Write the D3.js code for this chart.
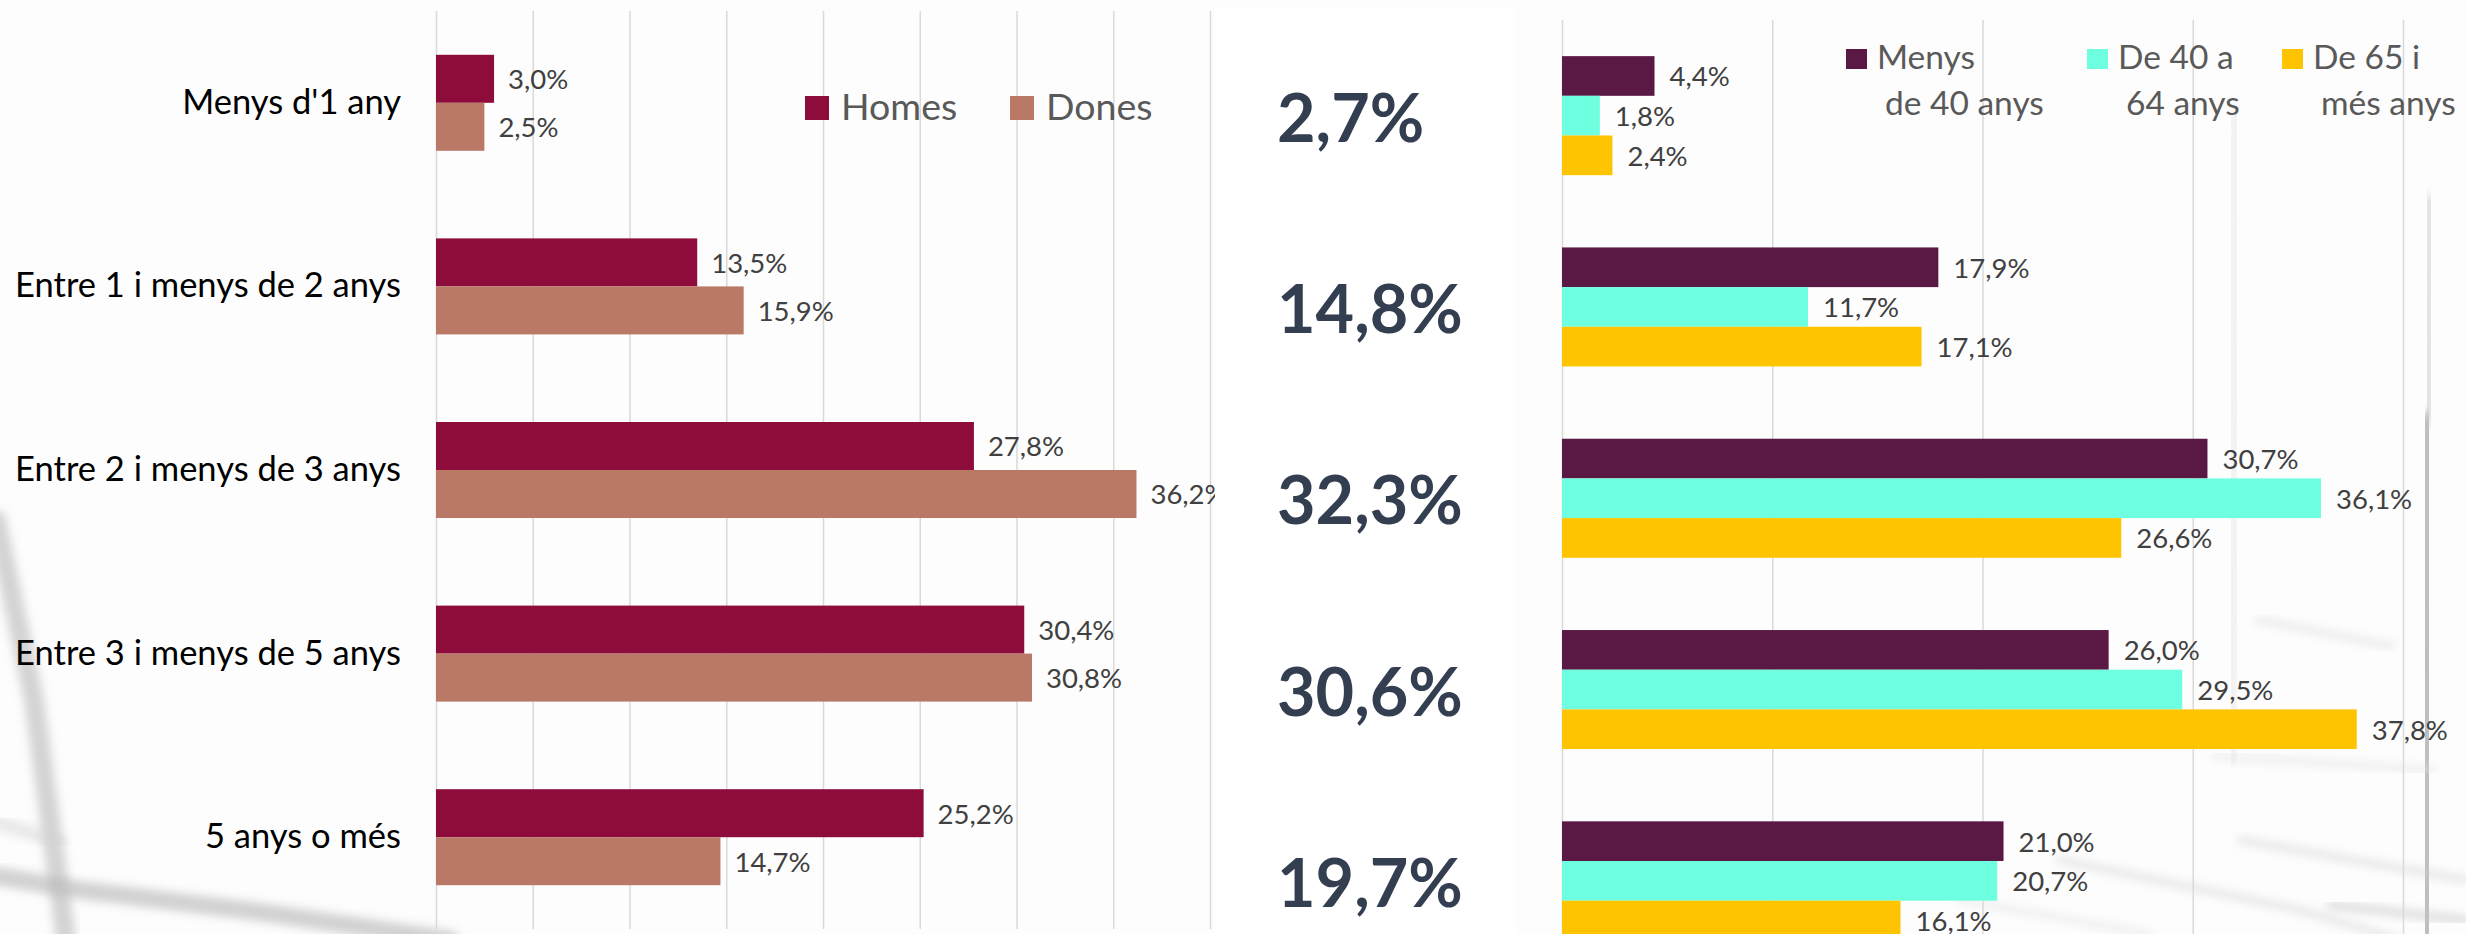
<!DOCTYPE html>
<html lang="ca">
<head>
<meta charset="utf-8">
<title>Antiguitat a l'atur</title>
<script src="https://cdn.jsdelivr.net/npm/d3@7/dist/d3.min.js"></script>
<style>
  html, body { margin: 0; padding: 0; background: #fdfdfd; }
  svg { display: block; }
  text { font-family: Lato, "Noto Sans", sans-serif; }
</style>
</head>
<body>
<svg id="chart" width="2466" height="934"></svg>
<script>
// ---- data ----
const categories = [
  "Menys d'1 any",
  "Entre 1 i menys de 2 anys",
  "Entre 2 i menys de 3 anys",
  "Entre 3 i menys de 5 anys",
  "5 anys o més"
];
const sexSeries = ["Homes", "Dones"];
const homes = [3.0, 13.5, 27.8, 30.4, 25.2];
const dones = [2.5, 15.9, 36.2, 30.8, 14.7];

const totals = [2.7, 14.8, 32.3, 30.6, 19.7];

const ageSeries = ["Menys de 40 anys", "De 40 a 64 anys", "De 65 i més anys"];
const ageLegendLines = [["Menys", "de 40 anys"], ["De 40 a", "64 anys"], ["De 65 i", "més anys"]];
const under40 = [4.4, 17.9, 30.7, 26.0, 21.0];
const from40to64 = [1.8, 11.7, 36.1, 29.5, 20.7];
const from65 = [2.4, 17.1, 26.6, 37.8, 16.1];

const sexTicks = [0, 5, 10, 15, 20, 25, 30, 35, 40];
const ageTicks = [0, 10, 20, 30, 40];

// ---- styles ----
const sexColors = { "Homes": "#8e0c3c", "Dones": "#b97966" };
const ageColors = { "Menys de 40 anys": "#5a1844", "De 40 a 64 anys": "#6dffe0", "De 65 i més anys": "#ffc400" };
const gridColor = "#d9d9d9";
const labelColor = "#404040";
const legendColor = "#595959";
const pct = v => d3.format(".1f")(v).replace(".", ",") + "%";

const svg = d3.select("#chart");

// ---- soft photographic backdrop (window-frame shadows) ----
const defs = svg.append("defs");
const blur = defs.append("filter").attr("id", "soft")
  .attr("x", "-20%").attr("y", "-20%").attr("width", "140%").attr("height", "140%");
blur.append("feGaussianBlur").attr("stdDeviation", 5);
const blurWide = defs.append("filter").attr("id", "softer")
  .attr("x", "-50%").attr("y", "-50%").attr("width", "200%").attr("height", "200%");
blurWide.append("feGaussianBlur").attr("stdDeviation", 12);

const backdrop = svg.append("g").attr("class", "backdrop");
const shadowStrokes = [
  // left corner
  { d: "M -4,520 L 34,700 L 66,940", w: 20, c: "#bdbdbd", o: 0.65, f: "soft" },
  { d: "M -4,876 L 80,890 L 260,912 L 450,940", w: 18, c: "#bababa", o: 0.65, f: "soft" },
  { d: "M -4,822 L 60,842", w: 14, c: "#d4d4d4", o: 0.5, f: "soft" },
  { d: "M -20,300 L -20,934", w: 70, c: "#e4e4e4", o: 0.6, f: "softer" },
  // right side window frame
  { d: "M 2428,420 L 2426,940", w: 18, c: "#a0a0a0", o: 0.7, f: "soft" },
  { d: "M 2430,200 L 2428,420", w: 12, c: "#c8c8c8", o: 0.6, f: "soft" },
  { d: "M 2460,0 L 2460,940", w: 24, c: "#d6d6d6", o: 0.7, f: "soft" },
  { d: "M 2236,110 L 2232,760", w: 10, c: "#e8e8e8", o: 0.7, f: "soft" },
  { d: "M 2258,620 L 2392,646", w: 6, c: "#d8d8d8", o: 0.6, f: "soft" },
  { d: "M 2215,756 L 2432,770", w: 7, c: "#e2e2e2", o: 0.6, f: "soft" },
  { d: "M 2060,860 L 2300,910 L 2400,940", w: 7, c: "#d4d4d4", o: 0.6, f: "soft" },
  { d: "M 2240,840 L 2466,880", w: 6, c: "#cdcdcd", o: 0.6, f: "soft" },
  { d: "M 2330,905 L 2466,920", w: 8, c: "#c4c4c4", o: 0.6, f: "soft" },
  { d: "M 1960,900 L 2150,934", w: 6, c: "#e0e0e0", o: 0.6, f: "soft" }
];
backdrop.selectAll("path").data(shadowStrokes).join("path")
  .attr("d", s => s.d)
  .attr("fill", "none")
  .attr("stroke", s => s.c)
  .attr("stroke-width", s => s.w)
  .attr("stroke-linecap", "round")
  .attr("opacity", s => s.o)
  .attr("filter", s => `url(#${s.f})`);

// ================= left chart: by sex =================
const xSex = d3.scaleLinear().domain([0, 40]).range([436, 1210]);
const ySex = d3.scaleBand().domain(categories).range([11, 929]).padding(0);
const ySexInner = d3.scaleBand().domain(sexSeries).range([0, ySex.bandwidth()])
  .paddingInner(0).paddingOuter(0.9125);

const left = svg.append("g").attr("class", "by-sex");

left.append("g").attr("class", "grid")
  .attr("transform", `translate(0,${ySex.range()[1]})`)
  .call(d3.axisBottom(xSex).tickValues(sexTicks).tickSize(-(ySex.range()[1] - ySex.range()[0])).tickFormat(""))
  .call(g => g.select(".domain").remove())
  .call(g => g.selectAll(".tick line").attr("stroke", gridColor).attr("stroke-width", 1.5));

left.append("g").attr("class", "y-axis")
  .attr("transform", `translate(${xSex(0) - 35},0)`)
  .call(d3.axisLeft(ySex).tickSize(0).tickPadding(0))
  .call(g => g.select(".domain").remove())
  .call(g => g.selectAll(".tick text")
    .attr("fill", "#000").attr("font-size", 34.5).attr("font-family", "Lato, sans-serif"));

const sexRows = categories.map((c, i) => ({ cat: c, values: [
  { key: "Homes", v: homes[i] }, { key: "Dones", v: dones[i] } ] }));

const sexGroups = left.selectAll("g.cat").data(sexRows).join("g")
  .attr("class", "cat")
  .attr("transform", d => `translate(0,${ySex(d.cat)})`);

sexGroups.selectAll("rect").data(d => d.values).join("rect")
  .attr("x", xSex(0))
  .attr("y", d => ySexInner(d.key))
  .attr("width", d => xSex(d.v) - xSex(0))
  .attr("height", ySexInner.bandwidth())
  .attr("fill", d => sexColors[d.key]);

sexGroups.selectAll("text.val").data(d => d.values).join("text")
  .attr("class", "val")
  .attr("x", d => xSex(d.v) + 14)
  .attr("y", d => ySexInner(d.key) + ySexInner.bandwidth() / 2)
  .attr("dominant-baseline", "central")
  .attr("font-size", 27.5)
  .attr("fill", labelColor)
  .text(d => pct(d.v));

// legend
const sexLegend = left.append("g").attr("class", "legend");
const sexLegendX = [805, 1010];
sexSeries.forEach((s, i) => {
  const g = sexLegend.append("g").attr("transform", `translate(${sexLegendX[i]},96)`);
  g.append("rect").attr("width", 24).attr("height", 24).attr("fill", sexColors[s]);
  g.append("text").attr("x", 36).attr("y", 23.5)
    .attr("font-size", 37.5).attr("fill", legendColor).text(s);
});

// ================= middle panel: totals =================
svg.append("rect").attr("class", "totals-panel")
  .attr("x", 1215).attr("y", 7).attr("width", 300).attr("height", 927)
  .attr("fill", "#ffffff");

// ================= right chart: by age =================
const xAge = d3.scaleLinear().domain([0, 40]).range([1562, 2403]);
const yAge = d3.scaleBand().domain(categories).range([20, 976.5]).padding(0);
const yAgeInner = d3.scaleBand().domain(ageSeries).range([0, yAge.bandwidth()])
  .paddingInner(0).paddingOuter(0.911);

svg.append("g").attr("class", "totals")
  .selectAll("text").data(categories.map((c, i) => ({ cat: c, v: totals[i] }))).join("text")
  .attr("x", 1277)
  .attr("y", d => yAge(d.cat) + yAge.bandwidth() / 2)
  .attr("dominant-baseline", "central")
  .attr("font-size", 66.5)
  .attr("font-weight", 700)
  .attr("fill", "#333f50")
  .text(d => pct(d.v));

const right = svg.append("g").attr("class", "by-age");

right.append("g").attr("class", "grid")
  .attr("transform", "translate(0,934)")
  .call(d3.axisBottom(xAge).tickValues(ageTicks).tickSize(-(934 - yAge.range()[0])).tickFormat(""))
  .call(g => g.select(".domain").remove())
  .call(g => g.selectAll(".tick line").attr("stroke", gridColor).attr("stroke-width", 1.5));

const ageRows = categories.map((c, i) => ({ cat: c, values: [
  { key: ageSeries[0], v: under40[i] },
  { key: ageSeries[1], v: from40to64[i] },
  { key: ageSeries[2], v: from65[i] } ] }));

const ageGroups = right.selectAll("g.cat").data(ageRows).join("g")
  .attr("class", "cat")
  .attr("transform", d => `translate(0,${yAge(d.cat)})`);

ageGroups.selectAll("rect").data(d => d.values).join("rect")
  .attr("x", xAge(0))
  .attr("y", d => yAgeInner(d.key))
  .attr("width", d => xAge(d.v) - xAge(0))
  .attr("height", yAgeInner.bandwidth())
  .attr("fill", d => ageColors[d.key]);

ageGroups.selectAll("text.val").data(d => d.values).join("text")
  .attr("class", "val")
  .attr("x", d => xAge(d.v) + 15)
  .attr("y", d => yAgeInner(d.key) + yAgeInner.bandwidth() / 2)
  .attr("dominant-baseline", "central")
  .attr("font-size", 27.5)
  .attr("fill", labelColor)
  .text(d => pct(d.v));

// legend (two-line entries)
const ageLegend = right.append("g").attr("class", "legend");
const ageLegendX = [1846, 2087, 2282];
ageSeries.forEach((s, i) => {
  const g = ageLegend.append("g").attr("transform", `translate(${ageLegendX[i]},49)`);
  g.append("rect").attr("width", 21).attr("height", 20).attr("fill", ageColors[s]);
  const t = g.append("text").attr("font-size", 33.5).attr("fill", legendColor);
  t.append("tspan").attr("x", 31).attr("y", 20).text(ageLegendLines[i][0]);
  t.append("tspan").attr("x", 39).attr("y", 66).text(ageLegendLines[i][1]);
});
</script>
</body>
</html>
